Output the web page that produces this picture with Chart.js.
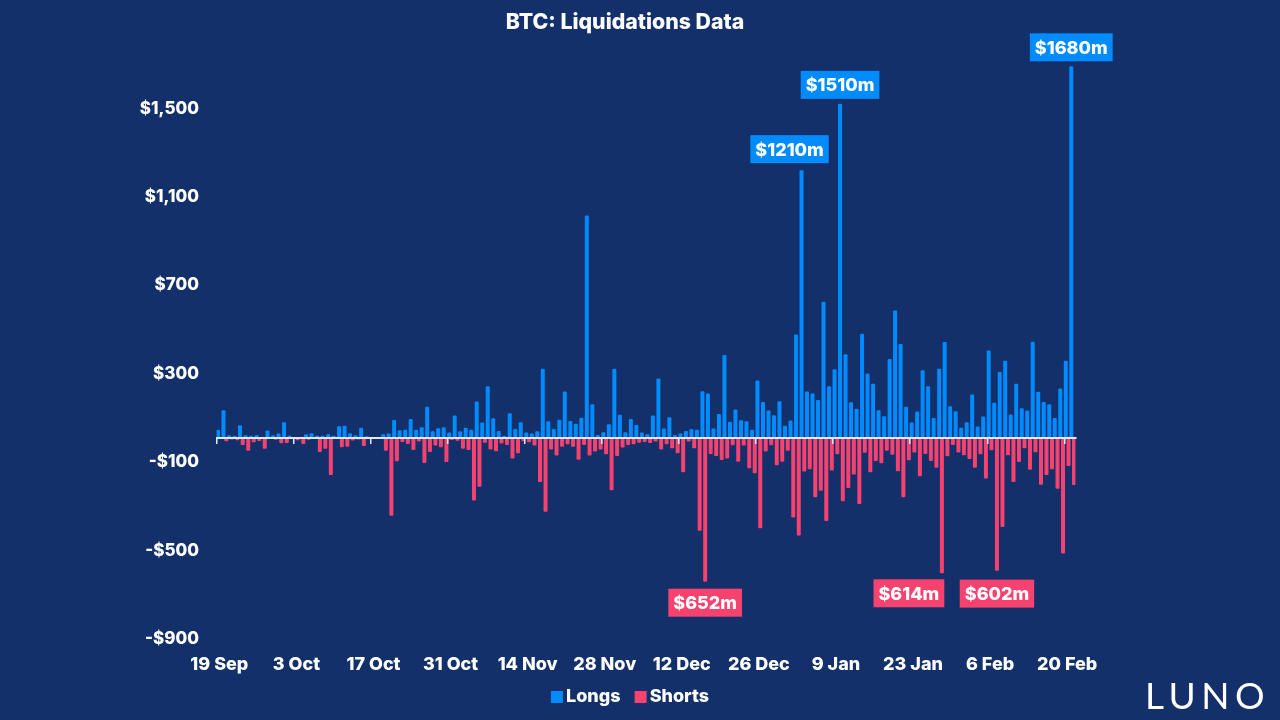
<!DOCTYPE html>
<html>
<head>
<meta charset="utf-8">
<script src="https://cdn.jsdelivr.net/npm/chart.js@4"></script>
<style>
html,body{margin:0;padding:0;width:1280px;height:720px;overflow:hidden;background:#13306a}
canvas{position:absolute;left:0;top:0}
#logo{position:absolute;left:1145px;top:671px;font:400 37px Lato,sans-serif;letter-spacing:5.5px;color:#fff;line-height:48px}
</style>
</head>
<body>
<canvas id="c" width="1250" height="720"></canvas>
<div id="logo">LUNO</div>
<script>
const tickLabels = ["19 Sep","3 Oct","17 Oct","31 Oct","14 Nov","28 Nov","12 Dec","26 Dec","9 Jan","23 Jan","6 Feb","20 Feb"];
const tickEvery = 14;
const yTicks = [-900,-500,-100,300,700,1100,1500];
const longs = [
35,124,11,8,56,11,8,12,3,32,
11,18,69,8,3,3,15,20,8,8,
15,8,51,54,20,11,45,6,2,0,
15,18,80,33,35,84,35,47,140,29,
42,47,23,100,29,45,35,163,68,232,
87,30,8,110,39,69,23,18,29,312,
74,39,81,208,75,63,90,1005,151,12,
24,60,312,103,24,84,57,23,15,100,
267,41,92,12,18,30,39,36,210,200,
41,107,374,72,127,78,74,35,258,161,
122,101,164,53,77,466,1210,208,199,170,
615,232,309,1510,377,160,131,470,290,244,
124,97,356,575,424,139,68,118,305,232,
89,312,433,142,119,45,69,195,50,95,
394,158,297,348,104,244,133,122,434,207,
161,151,89,222,348,1680];
const shorts = [
-3,-17,-9,-12,-33,-59,-21,-15,-50,-4,
-10,-26,-24,-3,-12,-29,-10,-3,-65,-50,
-169,-3,-44,-41,-13,-9,-38,-3,0,0,
-60,-354,-107,-20,-29,-56,-18,-115,-65,-36,
-44,-110,-11,-14,-51,-56,-285,-223,-23,-54,
-62,-27,-33,-95,-71,-17,-21,-36,-201,-335,
-54,-81,-42,-30,-42,-100,-33,-81,-63,-54,
-75,-238,-83,-45,-33,-30,-23,-20,-24,-18,
-54,-30,-48,-71,-157,-18,-48,-422,-652,-74,
-83,-101,-95,-35,-109,-36,-139,-161,-410,-63,
-35,-125,-109,-59,-362,-443,-154,-143,-270,-240,
-377,-149,-75,-288,-228,-167,-300,-69,-157,-106,
-116,-59,-78,-152,-270,-103,-68,-175,-74,-106,
-136,-614,-84,-33,-68,-80,-97,-136,-75,-185,
-57,-602,-404,-80,-201,-110,-48,-146,-66,-213,
-169,-143,-232,-525,-128,-214];
const seriesNames = ["Longs","Shorts"];
const seriesColors = ["#008cff","#f5426f"];
const callouts = [
  {series:0,index:155,dx:0,gap:5},
  {series:0,index:113,dx:0,gap:5},
  {series:0,index:106,dx:-12,gap:7},
  {series:1,index:88,dx:0,gap:7},
  {series:1,index:131,dx:-33,gap:6},
  {series:1,index:141,dx:0,gap:9}
];

const categories = longs.map((_, i) => i % tickEvery === 0 ? tickLabels[i / tickEvery] : "");
const FONT = "Inter";
const calloutPlugin = {
  id: "callouts",
  afterLayout(chart) {
    chart.legend.left += 8;
    chart.legend.right += 8;
  },
  afterDatasetsDraw(chart) {
    const ctx = chart.ctx;
    ctx.save();
    ctx.font = "800 18px " + FONT;
    ctx.textAlign = "center";
    ctx.textBaseline = "middle";
    for (const c of callouts) {
      const bar = chart.getDatasetMeta(c.series).data[c.index];
      const v = chart.data.datasets[c.series].data[c.index];
      const text = "$" + Math.abs(v) + "m";
      const w = ctx.measureText(text).width + 10, h = 28;
      const cx = bar.x + c.dx;
      const top = c.series === 0 ? bar.y - c.gap - h : bar.y + c.gap;
      ctx.fillStyle = seriesColors[c.series];
      ctx.fillRect(cx - w / 2, top, w, h);
      ctx.fillStyle = "#ffffff";
      ctx.fillText(text, cx, top + h / 2 + 1);
    }
    ctx.restore();
  }
};

new Chart(document.getElementById("c"), {
  type: "bar",
  data: {
    labels: categories,
    datasets: [
      {label: seriesNames[0], data: longs, backgroundColor: seriesColors[0]},
      {label: seriesNames[1], data: shorts, backgroundColor: seriesColors[1]}
    ]
  },
  plugins: [calloutPlugin],
  options: {
    responsive: false,
    animation: false,
    devicePixelRatio: 1,
    layout: {padding: {bottom: 4}},
    datasets: {bar: {categoryPercentage: 1, barPercentage: 1.45, borderRadius: 1}},
    plugins: {
      tooltip: {enabled: false},
      title: {
        display: true, text: "BTC: Liquidations Data", color: "#ffffff",
        font: {family: FONT, size: 21.3, weight: "800"},
        padding: {top: 9.8, bottom: 26.5}
      },
      legend: {
        position: "bottom",
        labels: {
          color: "#ffffff", font: {family: FONT, size: 18, weight: "800"},
          usePointStyle: true, pointStyle: "rect", boxWidth: 0.1, boxHeight: 12, padding: 20
        }
      }
    },
    scales: {
      x: {
        type: "category", offset: true,
        grid: {display: false, drawTicks: false}, border: {display: false},
        ticks: {
          autoSkip: false, maxRotation: 0, minRotation: 0, padding: 17, color: "#ffffff",
          font: {family: FONT, size: 18, weight: "800"},
          callback(v, i) { return categories[i]; }
        },
        afterFit(s) { s.height = 31.5; s._computeLabelArea = () => null; }
      },
      x2: {
        type: "category", offset: true, position: {y: 0}, z: 1,
        border: {display: true, color: "#e3e8f1", width: 2, z: 1},
        grid: {
          display: true, offset: true, drawOnChartArea: false, drawTicks: true, tickLength: 5, z: 1,
          lineWidth: 1.5,
          color: ctx => ctx.index % tickEvery === 0 ? "#e3e8f1" : "rgba(0,0,0,0)"
        },
        ticks: {display: false, autoSkip: false}
      },
      y: {
        type: "linear", min: -900, max: 1700,
        grid: {display: false, drawTicks: false}, border: {display: false},
        afterBuildTicks(s) { s.ticks = yTicks.map(value => ({value})); },
        ticks: {
          padding: 17.6, labelOffset: 2.5, color: "#ffffff",
          font: {family: FONT, size: 17, weight: "800"},
          callback(v) { return (v < 0 ? "-$" : "$") + Math.abs(v).toLocaleString("en-US"); }
        },
        afterFit(s) { s.width = 216.6; }
      },
      y2: {
        type: "linear", position: "right",
        grid: {display: false, drawTicks: false}, border: {display: false},
        ticks: {display: false},
        afterFit(s) { s.width = 1250 - 1075.4; }
      }
    }
  }
});
</script>
</body>
</html>
